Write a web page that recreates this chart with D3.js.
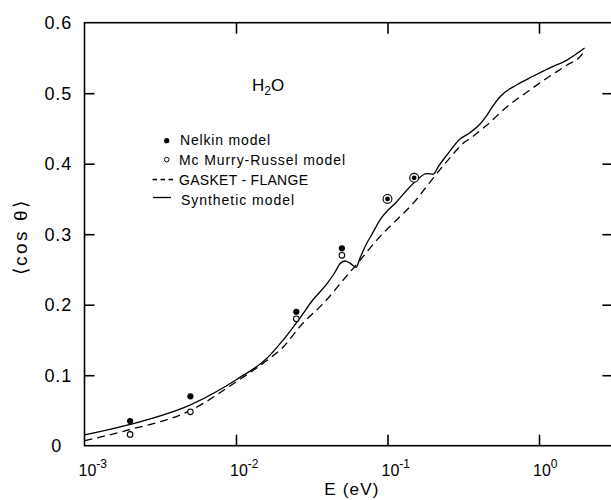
<!DOCTYPE html>
<html>
<head>
<meta charset="utf-8">
<script src="https://cdn.jsdelivr.net/npm/d3@7"></script>
<style>
  html, body { margin: 0; padding: 0; background: #fff; }
  text { font-family: "Liberation Sans", Arial, sans-serif; fill: #000; }
</style>
</head>
<body>
<svg id="chart" width="611" height="500"></svg>
<script>
// ---- data ----
const pointEnergies = [0.002, 0.005, 0.025, 0.05, 0.1, 0.15];
const nelkinValues = [0.035, 0.07, 0.19, 0.28, 0.35, 0.38];
const mcMurryValues = [0.016, 0.048, 0.18, 0.27, 0.35, 0.38];

const synthE = [0.001, 0.00194, 0.005, 0.0101, 0.016, 0.0205, 0.0264, 0.0322, 0.0393, 0.045, 0.0485, 0.0524, 0.0565, 0.062, 0.0658, 0.0721, 0.079, 0.0891, 0.115, 0.152, 0.1815, 0.2005, 0.2163, 0.246, 0.301, 0.35, 0.407, 0.454, 0.497, 0.553, 0.716, 0.912, 1.18, 1.53, 2.0];
const synthCos = [0.0152, 0.0295, 0.058, 0.094, 0.124, 0.15, 0.181, 0.207, 0.228, 0.246, 0.258, 0.262, 0.259, 0.253, 0.266, 0.285, 0.30, 0.32, 0.346, 0.3745, 0.386, 0.385, 0.396, 0.412, 0.435, 0.444, 0.456, 0.469, 0.482, 0.495, 0.512, 0.524, 0.536, 0.547, 0.564];

const gasketE = [0.001, 0.00195, 0.005, 0.0101, 0.0158, 0.0205, 0.0264, 0.0397, 0.0501, 0.063, 0.0891, 0.121, 0.148, 0.191, 0.246, 0.325, 0.361, 0.454, 0.615, 0.834, 1.13, 1.53, 1.92, 2.0];
const gasketCos = [0.007, 0.0223, 0.05, 0.091, 0.12, 0.14, 0.169, 0.207, 0.233, 0.258, 0.2965, 0.325, 0.344, 0.374, 0.403, 0.431, 0.4377, 0.455, 0.4808, 0.5017, 0.5215, 0.540, 0.555, 0.562];

const xTickValues = [1e-3, 1e-2, 1e-1, 1];
const xTickExponents = ["-3", "-2", "-1", "0"];
const yTickValues = [0, 0.1, 0.2, 0.3, 0.4, 0.5, 0.6];
const yTickLabels = ["0", "0.1", "0.2", "0.3", "0.4", "0.5", "0.6"];

const legendLabels = ["Nelkin model", "Mc Murry-Russel model", "GASKET - FLANGE", "Synthetic model"];

// ---- layout ----
const svg = d3.select("#chart");
const pLeft = 84.5, pTop = 22.7, pBottom = 445.7, decade = 151.5;
const xMax = 3.05;
const x = d3.scaleLog().domain([1e-3, xMax]).range([pLeft, pLeft + Math.log10(xMax / 1e-3) * decade]);
const y = d3.scaleLinear().domain([0, 0.6]).range([pBottom, pTop]);
const pRight = x(xMax);

// frame
svg.append("rect")
  .attr("x", pLeft).attr("y", pTop)
  .attr("width", pRight - pLeft).attr("height", pBottom - pTop)
  .attr("fill", "none").attr("stroke", "#000").attr("stroke-width", 1.6);

// ticks via axes
function styleAxis(g) {
  g.select(".domain").remove();
  g.selectAll(".tick line").attr("stroke", "#000").attr("stroke-width", 1.6);
  g.selectAll(".tick text").remove();
}
svg.append("g").attr("transform", `translate(0,${pBottom})`)
  .call(d3.axisBottom(x).tickValues(xTickValues.slice(1)).tickSizeInner(-11).tickSizeOuter(0).tickFormat(""))
  .call(styleAxis);
svg.append("g").attr("transform", `translate(0,${pTop})`)
  .call(d3.axisTop(x).tickValues(xTickValues.slice(1)).tickSizeInner(-11).tickSizeOuter(0).tickFormat(""))
  .call(styleAxis);
svg.append("g").attr("transform", `translate(${pLeft},0)`)
  .call(d3.axisLeft(y).tickValues(yTickValues.slice(1, 6)).tickSizeInner(-10).tickSizeOuter(0).tickFormat(""))
  .call(styleAxis);
svg.append("g").attr("transform", `translate(${pRight},0)`)
  .call(d3.axisRight(y).tickValues(yTickValues.slice(1, 6)).tickSizeInner(-10).tickSizeOuter(0).tickFormat(""))
  .call(styleAxis);

// x tick labels 10^n
const xl = svg.append("g").selectAll("text").data(xTickValues).join("text")
  .attr("x", d => x(d) - 6)
  .attr("y", 476)
  .attr("font-size", 16);
xl.append("tspan").text("10");
xl.append("tspan").attr("dy", -8).attr("font-size", 12).text((d, i) => xTickExponents[i]);

// y tick labels
svg.append("g").selectAll("text").data(yTickValues).join("text")
  .attr("x", d => d === 0 ? 62 : 72)
  .attr("y", d => y(d) + 6.5)
  .attr("text-anchor", "end")
  .attr("font-size", 18)
  .attr("letter-spacing", 0.8)
  .text((d, i) => yTickLabels[i]);

// axis titles
svg.append("text").attr("x", 352).attr("y", 495).attr("text-anchor", "middle")
  .attr("font-size", 17).attr("letter-spacing", 1.2).text("E (eV)");
svg.append("text").attr("transform", "translate(27,237) rotate(-90)")
  .attr("text-anchor", "middle").attr("font-size", 19).attr("letter-spacing", 2.5)
  .text("\u27E8cos \u03B8\u27E9");

// H2O
const h2o = svg.append("text").attr("x", 252).attr("y", 91).attr("font-size", 17);
h2o.append("tspan").text("H");
h2o.append("tspan").attr("dy", 4).attr("font-size", 12).text("2");
h2o.append("tspan").attr("dy", -4).text("O");

// curves
const line = d3.line().x(d => x(d[0])).y(d => y(d[1])).curve(d3.curveMonotoneX);
svg.append("path").datum(synthE.map((e, i) => [e, synthCos[i]]))
  .attr("d", line).attr("fill", "none").attr("stroke", "#000").attr("stroke-width", 1.3);
svg.append("path").datum(gasketE.map((e, i) => [e, gasketCos[i]]))
  .attr("d", line).attr("fill", "none").attr("stroke", "#000").attr("stroke-width", 1.3)
  .attr("stroke-dasharray", "8,5");

// points
svg.append("g").selectAll("circle").data(pointEnergies).join("circle")
  .attr("cx", d => x(d))
  .attr("cy", (d, i) => y(mcMurryValues[i]))
  .attr("r", (d, i) => mcMurryValues[i] === nelkinValues[i] ? 4.4 : 2.8)
  .attr("fill", "#fff").attr("stroke", "#000").attr("stroke-width", 1.1);
svg.append("g").selectAll("circle").data(pointEnergies).join("circle")
  .attr("cx", d => x(d))
  .attr("cy", (d, i) => y(nelkinValues[i]))
  .attr("r", (d, i) => mcMurryValues[i] === nelkinValues[i] ? 2.4 : 3.1)
  .attr("fill", "#000");

// legend
const legendY = [145, 165, 184.5, 204.5];
const legendW = [90, 166, 129, 113];
const legendX = [180, 179, 179, 181];
svg.append("g").selectAll("text").data(legendLabels).join("text")
  .attr("x", (d, i) => legendX[i])
  .attr("y", (d, i) => legendY[i])
  .attr("font-size", 14)
  .attr("textLength", (d, i) => legendW[i])
  .attr("lengthAdjust", "spacing")
  .text(d => d);
svg.append("circle").attr("cx", 166.7).attr("cy", 140.7).attr("r", 2.6).attr("fill", "#000");
svg.append("circle").attr("cx", 166.7).attr("cy", 159.6).attr("r", 2.3)
  .attr("fill", "#fff").attr("stroke", "#000").attr("stroke-width", 1);
svg.append("line").attr("x1", 152.5).attr("x2", 173).attr("y1", 179.5).attr("y2", 179.5)
  .attr("stroke", "#000").attr("stroke-width", 1.3).attr("stroke-dasharray", "4.5,3.5");
svg.append("line").attr("x1", 153).attr("x2", 171).attr("y1", 197.5).attr("y2", 197.5)
  .attr("stroke", "#000").attr("stroke-width", 1.3);
</script>
</body>
</html>
